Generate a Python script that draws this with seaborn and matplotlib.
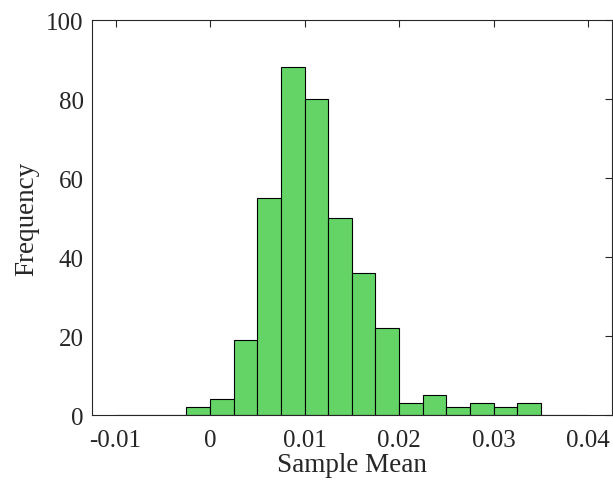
import numpy as np
import pandas as pd
import matplotlib
matplotlib.use("Agg")
import matplotlib.pyplot as plt
import seaborn as sns

# histogram counts (bin width 0.0025)
bin_edges = [-0.01, -0.0075, -0.005, -0.0025, 0.0, 0.0025, 0.005, 0.0075, 0.01,
             0.0125, 0.015, 0.0175, 0.02, 0.0225, 0.025, 0.0275, 0.03, 0.0325,
             0.035, 0.0375, 0.04]
counts = [0, 0, 0, 2, 4, 19, 55, 88, 80, 50, 36, 22, 3, 5, 2, 3, 2, 3, 0, 0]

centers = [(a + b) / 2 for a, b in zip(bin_edges[:-1], bin_edges[1:])]
df = pd.DataFrame({"mean": centers, "count": counts})

sns.set_style("white")
plt.rcParams['font.family'] = ['Liberation Serif', 'DejaVu Serif']

fig = plt.figure(figsize=(6.13, 4.89), dpi=100)
ax = fig.add_axes([0.150, 0.149, 0.848, 0.808])

sns.histplot(data=df, x="mean", weights="count", bins=bin_edges, ax=ax,
             color="#64d467", alpha=1, edgecolor="black", linewidth=0.8)

ax.set_xlim(-0.0125, 0.0425)
ax.set_ylim(0, 100)
ax.set_xticks([-0.01, 0, 0.01, 0.02, 0.03, 0.04])
ax.set_xticklabels(["-0.01", "0", "0.01", "0.02", "0.03", "0.04"])
ax.set_yticks([0, 20, 40, 60, 80, 100])
ax.set_xlabel("Sample Mean", fontsize=19.5, labelpad=1)
ax.set_ylabel("Frequency", fontsize=19.5, labelpad=5)
ax.tick_params(direction="in", labelsize=18, length=5, width=0.8,
               top=True, right=True, color="#262626")
ax.tick_params(axis="x", pad=10)
ax.tick_params(axis="y", pad=6)
for s in ax.spines.values():
    s.set_visible(True)
    s.set_color("#262626")
    s.set_linewidth(0.8)

plt.savefig("out.png", dpi=100)
